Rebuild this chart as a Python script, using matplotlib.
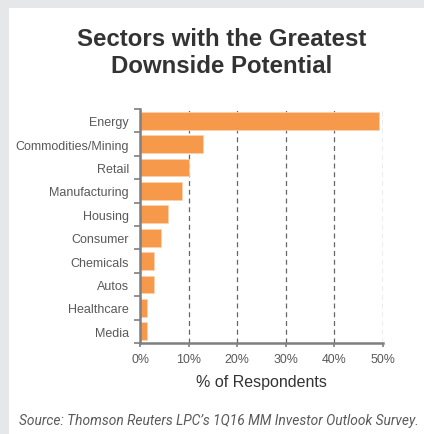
import matplotlib.pyplot as plt
from matplotlib.patches import Rectangle
from matplotlib.ticker import FuncFormatter, FixedLocator

sectors = ["Energy", "Commodities/Mining", "Retail", "Manufacturing", "Housing",
           "Consumer", "Chemicals", "Autos", "Healthcare", "Media"]
pct_respondents = [49.3, 12.9, 10.1, 8.7, 5.8, 4.3, 2.9, 2.9, 1.4, 1.4]
x_ticks = [0, 10, 20, 30, 40, 50]

BAR_COLOR = "#f7994a"
AXIS_GREY = "#7f7f7f"
TEXT_GREY = "#595959"

plt.rcParams["font.family"] = ["Liberation Sans", "DejaVu Sans"]

fig = plt.figure(figsize=(4.24, 4.35), dpi=100)
fig.patch.set_facecolor("white")

# grey frame strips along top and left edge
fig.patches.append(Rectangle((0, 1 - 9 / 435), 1, 9 / 435, transform=fig.transFigure,
                             facecolor="#e6e7e8", edgecolor="none", zorder=0))
fig.patches.append(Rectangle((0, 0), 9 / 424, 1, transform=fig.transFigure,
                             facecolor="#e6e7e8", edgecolor="none", zorder=0))

ax = fig.add_axes([140 / 424, 1 - 344 / 435, 242.7 / 424, 234 / 435])

ypos = list(range(len(sectors)))
ax.barh(ypos, pct_respondents, height=0.76, color=BAR_COLOR, edgecolor="#fbd3b0",
        linewidth=0.6, zorder=2)

ax.set_xlim(0, 50)
ax.set_ylim(len(sectors) - 0.5, -0.5)

ax.xaxis.set_major_locator(FixedLocator(x_ticks))
ax.xaxis.set_major_formatter(FuncFormatter(lambda v, _: f"{v:.0f}%"))
ax.grid(axis="x", ls=(0, (4, 3)), color="#666666", lw=0.9, zorder=1)

ax.set_yticks(ypos)
ax.set_yticklabels(sectors)
ax.set_yticks([y + 0.5 for y in range(-1, len(sectors))], minor=True)
ax.tick_params(axis="y", which="major", length=0, pad=8, labelsize=9.0, labelcolor=TEXT_GREY)
ax.tick_params(axis="y", which="minor", length=4, width=1.2, color=AXIS_GREY)
ax.tick_params(axis="x", length=3, width=1.2, color=AXIS_GREY, labelsize=8.9,
               labelcolor=TEXT_GREY, pad=4)

for side in ("top", "right"):
    ax.spines[side].set_visible(False)
for side in ("left", "bottom"):
    ax.spines[side].set_color(AXIS_GREY)
    ax.spines[side].set_linewidth(1.8)

ax.set_xlabel("% of Respondents", fontsize=11.5, color="#333333", labelpad=7)

fig.text(222 / 424, 1 - 53 / 435, "Sectors with the Greatest\nDownside Potential",
         ha="center", va="center", fontsize=17.3, fontweight="bold", color="#333333",
         linespacing=1.2)

fig.text(219 / 424, 1 - 421 / 435,
         "Source: Thomson Reuters LPC\u2019s 1Q16 MM Investor Outlook Survey.",
         ha="center", va="center", fontsize=9.9, style="italic", color=TEXT_GREY,
         family=["Roboto", "DejaVu Sans"])

fig.savefig("out.png", dpi=100)
